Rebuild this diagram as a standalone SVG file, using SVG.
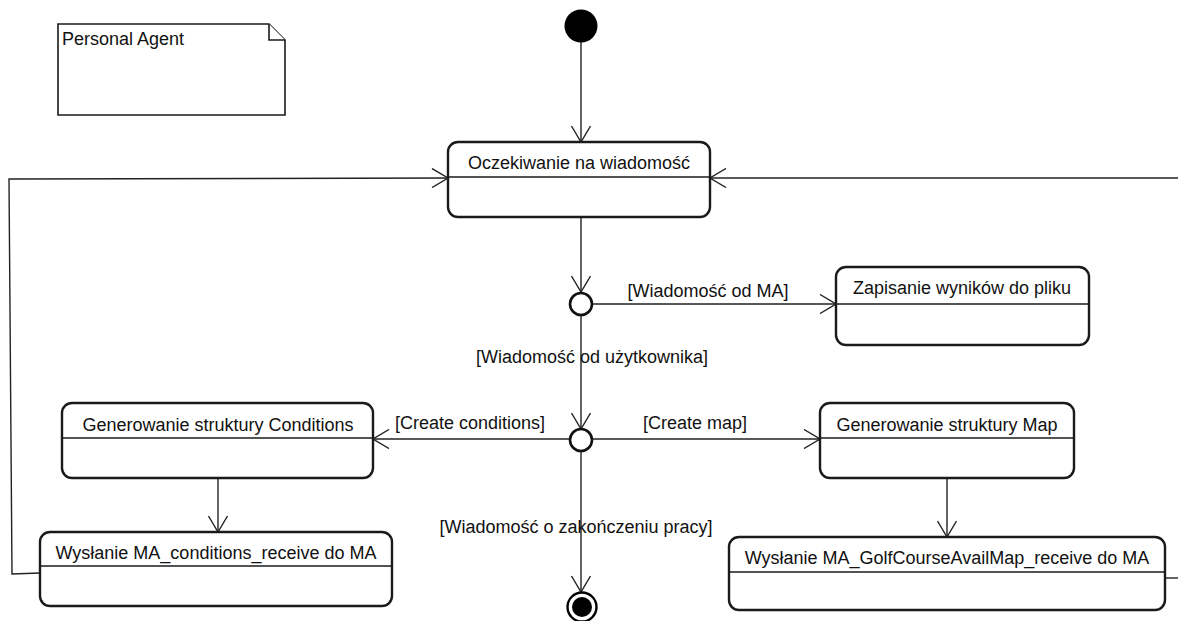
<svg xmlns="http://www.w3.org/2000/svg" width="1178" height="621" viewBox="0 0 1178 621">
  <style>
    text { font-family: "Liberation Sans", Arial, sans-serif; font-size: 18px; fill: #111; }
    .c { text-anchor: middle; }
    .state { fill: #fff; stroke: #1a1a1a; stroke-width: 2.4; }
    .sep { stroke: #1a1a1a; stroke-width: 1.4; }
    .note { fill: #fff; stroke: #1a1a1a; stroke-width: 1.6; }
    .edge { fill: none; stroke: #222; stroke-width: 1.4; }
    .arrow { marker-end: url(#open); }
  </style>
  <defs>
    <!-- open V arrowhead shared by all transitions -->
    <marker id="open" viewBox="0 -10 18 20" refX="17" refY="0" markerWidth="18" markerHeight="20" markerUnits="userSpaceOnUse" orient="auto">
      <path d="M1,-9.5 L17,0 L1,9.5" fill="none" stroke="#222" stroke-width="1.4"/>
    </marker>
  </defs>

  <!-- note -->
  <g id="note-personal-agent">
    <path class="note" d="M58,24 H269 L285,40 V115 H58 Z"/>
    <path class="note" d="M269,24 V40 H285" fill="none"/>
    <text x="62" y="45">Personal Agent</text>
  </g>

  <!-- transitions -->
  <g id="connectors">
    <path class="edge arrow" d="M581,42 V142"/>
    <path class="edge arrow" d="M581,217 V292"/>
    <path class="edge arrow" d="M592,304 H836"/>
    <path class="edge arrow" d="M581,315 V429"/>
    <path class="edge arrow" d="M570,439 H373"/>
    <path class="edge arrow" d="M592,439 H820"/>
    <path class="edge arrow" d="M581,451 V592"/>
    <path class="edge arrow" d="M218,478 V532"/>
    <path class="edge arrow" d="M947,478 V537"/>
    <path class="edge arrow" d="M40,573 L12,574 L9,179 L448,178"/>
    <path class="edge arrow" d="M1178,178 H710"/>
    <path class="edge" d="M1165,578 H1178"/>
    <text class="c" x="708" y="297">[Wiadomość od MA]</text>
    <text class="c" x="592" y="363">[Wiadomość od użytkownika]</text>
    <text class="c" x="470" y="429">[Create conditions]</text>
    <text class="c" x="695" y="429">[Create map]</text>
    <text class="c" x="576" y="533">[Wiadomość o zakończeniu pracy]</text>
  </g>

  <!-- initial -->
  <g id="initial">
    <circle cx="581" cy="26" r="16.5" fill="#000"/>
  </g>

  <g id="oczekiwanie">
    <rect class="state" x="448" y="142" width="262" height="75" rx="10"/>
    <line class="sep" x1="448" y1="177" x2="710" y2="177"/>
    <text class="c" x="579" y="169">Oczekiwanie na wiadomość</text>
  </g>

  <g id="decision-1">
    <circle cx="581" cy="304" r="11" fill="#fff" stroke="#111" stroke-width="2.6"/>
  </g>

  <g id="zapisanie">
    <rect class="state" x="836" y="267" width="253" height="78" rx="10"/>
    <line class="sep" x1="836" y1="304" x2="1089" y2="304"/>
    <text class="c" x="962" y="294">Zapisanie wyników do pliku</text>
  </g>

  <g id="decision-2">
    <circle cx="581" cy="440" r="11" fill="#fff" stroke="#111" stroke-width="2.6"/>
  </g>

  <g id="gen-conditions">
    <rect class="state" x="62" y="403" width="311" height="75" rx="10"/>
    <line class="sep" x1="62" y1="438" x2="373" y2="438"/>
    <text class="c" x="218" y="431">Generowanie struktury Conditions</text>
  </g>

  <g id="gen-map">
    <rect class="state" x="820" y="403" width="254" height="75" rx="10"/>
    <line class="sep" x1="820" y1="438" x2="1074" y2="438"/>
    <text class="c" x="947" y="431">Generowanie struktury Map</text>
  </g>

  <g id="send-conditions">
    <rect class="state" x="40" y="532" width="352" height="74" rx="10"/>
    <line class="sep" x1="40" y1="566" x2="392" y2="566"/>
    <text class="c" x="216" y="559">Wysłanie MA_conditions_receive do MA</text>
  </g>

  <g id="send-map">
    <rect class="state" x="729" y="537" width="436" height="73" rx="10"/>
    <line class="sep" x1="729" y1="572" x2="1165" y2="572"/>
    <text class="c" x="947" y="564">Wysłanie MA_GolfCourseAvailMap_receive do MA</text>
  </g>

  <!-- final -->
  <g id="final">
    <circle cx="582" cy="607" r="14.5" fill="#fff" stroke="#000" stroke-width="2.4"/>
    <circle cx="582" cy="607" r="10" fill="#000"/>
  </g>
</svg>
